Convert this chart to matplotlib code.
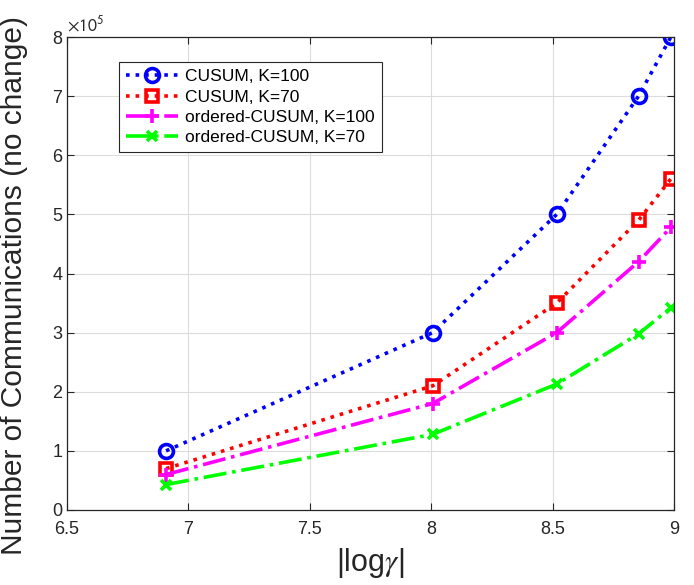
import matplotlib.pyplot as plt
import numpy as np

plt.rcParams['font.family'] = ['Liberation Sans', 'DejaVu Sans']
plt.rcParams['mathtext.fontset'] = 'stix'

# data
log_gamma = [6.908, 8.006, 8.517, 8.854, 8.987]
cusum_k100 = [1.0e5, 3.0e5, 5.0e5, 7.0e5, 8.0e5]
cusum_k70 = [0.70e5, 2.10e5, 3.50e5, 4.90e5, 5.60e5]
ordered_k100 = [0.60e5, 1.80e5, 3.00e5, 4.20e5, 4.78e5]
ordered_k70 = [0.43e5, 1.28e5, 2.13e5, 2.98e5, 3.42e5]

fig = plt.figure(figsize=(6.94, 5.85), dpi=100)
ax = fig.add_axes([67/694, 75/585, 607/694, 473/585])

lw = 2.6
ax.plot(log_gamma, cusum_k100, ':', color='#0000ff', lw=lw, marker='o', ms=10,
        mfc='none', mew=2.6, label='CUSUM, K=100')
ax.plot(log_gamma, cusum_k70, ':', color='#ff0000', lw=lw, marker='s', ms=8,
        mfc='none', mew=2.6, label='CUSUM, K=70')
ax.plot(log_gamma, ordered_k100, '-.', color='#ff00ff', lw=lw, marker='+', ms=10,
        mew=2.6, label='ordered-CUSUM, K=100')
ax.plot(log_gamma, ordered_k70, '-.', color='#00ff00', lw=lw, marker='x', ms=7,
        mew=2.6, label='ordered-CUSUM, K=70')

ax.set_xlim(6.5, 9)
ax.set_ylim(0, 8e5)
ax.set_xticks(np.arange(6.5, 9.01, 0.5))
ax.set_xticklabels(['6.5', '7', '7.5', '8', '8.5', '9'])
ax.set_yticks(np.arange(0, 8.01e5, 1e5))
ax.set_yticklabels([str(i) for i in range(9)])
ax.tick_params(direction='in', length=5, labelsize=13, colors='#262626',
               top=True, right=True, width=0.8)
ax.tick_params(axis='x', pad=8)
for s in ax.spines.values():
    s.set_color('#262626')
    s.set_linewidth(0.9)
ax.grid(True, color='#dcdcdc', lw=0.8)
ax.set_axisbelow(True)

ax.text(0.0, 1.005, r'$\times\mathsf{10}^{\mathsf{5}}$', transform=ax.transAxes,
        fontsize=13, color='#262626', va='bottom', ha='left')

ax.set_xlabel(r'|log$\gamma$|', fontsize=22, color='#262626', labelpad=6)
ax.set_ylabel('Number of Communications (no change)', fontsize=21.5,
              color='#262626')
ax.yaxis.set_label_coords(-0.065, 0.475)

leg = ax.legend(loc='upper left', bbox_to_anchor=(0.072, 0.965), fontsize=12.5,
                fancybox=False, edgecolor='#262626', framealpha=1,
                handlelength=3, borderpad=0.4, labelspacing=0.3, handletextpad=0.4)
leg.get_frame().set_linewidth(0.8)

plt.savefig('out.png', dpi=100)
